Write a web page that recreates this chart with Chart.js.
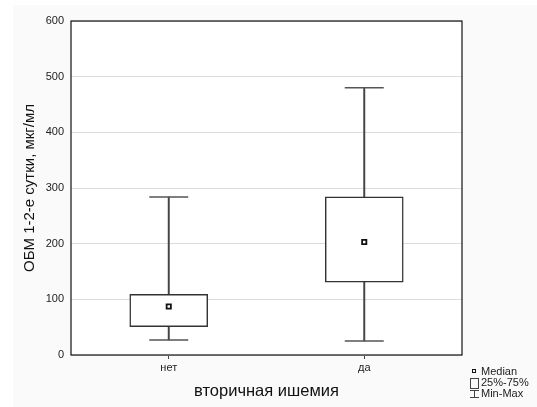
<!DOCTYPE html>
<html>
<head>
<meta charset="utf-8">
<script src="https://cdn.jsdelivr.net/npm/chart.js@4.4.1/dist/chart.umd.min.js"></script>
<style>
  html, body { margin: 0; padding: 0; background: #fff; }
  #wrap { position: relative; width: 537px; height: 407px; }
  #legend { position: absolute; left: 470px; top: 366px; font-family: "Liberation Sans", Arial, sans-serif; font-size: 11px; color: #222; line-height: 10.5px; }
  #legend div { white-space: nowrap; }
  .ico { display: inline-block; width: 9px; position: relative; vertical-align: middle; height: 10px; margin-right: 2px; }
  .med { position: absolute; left: 2px; top: 2px; width: 2px; height: 2px; border: 1.5px solid #111; background: #fff; }
  .box { position: absolute; left: 0; top: 0; width: 7px; height: 9px; border: 1px solid #444; }
  .wh { position: absolute; left: 4px; top: 1px; width: 1px; height: 8px; background: #444; }
  .wh:before, .wh:after { content: ""; position: absolute; left: -4px; width: 9px; height: 1px; background: #444; }
  .wh:before { top: 0; }
  .wh:after { bottom: 0; }
</style>
</head>
<body>
<div id="wrap">
  <canvas id="boxChart" width="537" height="407"></canvas>
  <div id="legend">
    <div><span class="ico"><span class="med"></span></span>Median</div>
    <div><span class="ico"><span class="box"></span></span>25%-75%</div>
    <div><span class="ico"><span class="wh"></span></span>Min-Max</div>
  </div>
</div>
<script>
var categories = ['нет', 'да'];
var minValues = [27, 25];
var q1Values = [51, 131];
var medianValues = [87, 203];
var q3Values = [109, 284];
var maxValues = [284, 480];
var yTicks = [0, 100, 200, 300, 400, 500, 600];

var boxRanges = q1Values.map(function (v, i) { return [v, q3Values[i]]; });
var whiskerRanges = minValues.map(function (v, i) { return [v, maxValues[i]]; });

var frame = {
    id: 'frame',
    beforeDraw: function (chart) {
        var c = chart.ctx, a = chart.chartArea;
        c.save();
        c.fillStyle = '#fafafa';
        c.fillRect(13, 5, chart.width - 13, chart.height - 5);
        c.fillStyle = '#fff';
        c.fillRect(a.left, a.top, a.right - a.left, a.bottom - a.top);
        c.restore();
    },
    afterDraw: function (chart) {
        var c = chart.ctx, a = chart.chartArea;
        c.save();
        c.strokeStyle = '#111';
        c.lineWidth = 1.2;
        c.strokeRect(a.left, a.top, a.right - a.left, a.bottom - a.top);
        c.restore();
    }
};

var boxChart;

function init_box() {
    const ctx = document.getElementById('boxChart').getContext('2d');
    boxChart = new Chart(ctx, {
        data: {
            labels: categories,
            datasets: [
                {
                    type: 'line',
                    label: 'Median',
                    data: medianValues,
                    showLine: false,
                    pointStyle: 'rect',
                    pointRadius: 3,
                    pointBorderWidth: 1.8,
                    pointBorderColor: '#111',
                    pointBackgroundColor: '#fff',
                    order: 0
                },
                {
                    type: 'line',
                    label: 'Min',
                    data: minValues,
                    showLine: false,
                    pointStyle: 'line',
                    pointRadius: 19.5,
                    pointBorderWidth: 1.5,
                    pointBorderColor: '#555',
                    order: 1
                },
                {
                    type: 'line',
                    label: 'Max',
                    data: maxValues,
                    showLine: false,
                    pointStyle: 'line',
                    pointRadius: 19.5,
                    pointBorderWidth: 1.5,
                    pointBorderColor: '#555',
                    order: 1
                },
                {
                    type: 'bar',
                    label: '25%-75%',
                    data: boxRanges,
                    grouped: false,
                    barThickness: 78,
                    backgroundColor: '#fff',
                    borderColor: '#333',
                    borderWidth: 1.5,
                    borderSkipped: false,
                    order: 2
                },
                {
                    type: 'bar',
                    label: 'Min-Max',
                    data: whiskerRanges,
                    grouped: false,
                    barThickness: 1.3,
                    backgroundColor: '#444',
                    borderWidth: 0,
                    order: 3
                }
            ]
        },
        options: {
            responsive: false,
            animation: false,
            layout: {
                padding: { top: 15, right: 75, left: 0, bottom: 0 }
            },
            plugins: {
                legend: { display: false },
                tooltip: { enabled: false }
            },
            scales: {
                x: {
                    type: 'category',
                    offset: true,
                    afterFit: function (s) { s.height = 52; },
                    grid: {
                        offset: false,
                        drawOnChartArea: false,
                        drawTicks: true,
                        tickLength: 4,
                        color: '#444'
                    },
                    border: { display: false },
                    ticks: {
                        color: '#222',
                        padding: 2,
                        font: { family: 'Liberation Sans', size: 11 }
                    },
                    title: {
                        display: true,
                        text: 'вторичная ишемия',
                        color: '#111',
                        padding: { top: 2, bottom: 6 },
                        font: { family: 'Liberation Sans', size: 16.5 }
                    }
                },
                y: {
                    type: 'linear',
                    min: 0,
                    max: 600,
                    afterFit: function (s) { s.width = 71; },
                    afterBuildTicks: function (s) {
                        s.ticks = yTicks.map(function (v) { return { value: v }; });
                    },
                    grid: {
                        color: '#dcdcdc',
                        drawTicks: false
                    },
                    border: { display: false },
                    ticks: {
                        color: '#222',
                        padding: 7,
                        font: { family: 'Liberation Sans', size: 11 }
                    },
                    title: {
                        display: true,
                        text: 'ОБМ 1-2-е сутки, мкг/мл',
                        color: '#111',
                        padding: { top: 21, bottom: 0 },
                        font: { family: 'Liberation Sans', size: 15 }
                    }
                }
            }
        },
        plugins: [frame]
    });
}

init_box();
</script>
</body>
</html>
